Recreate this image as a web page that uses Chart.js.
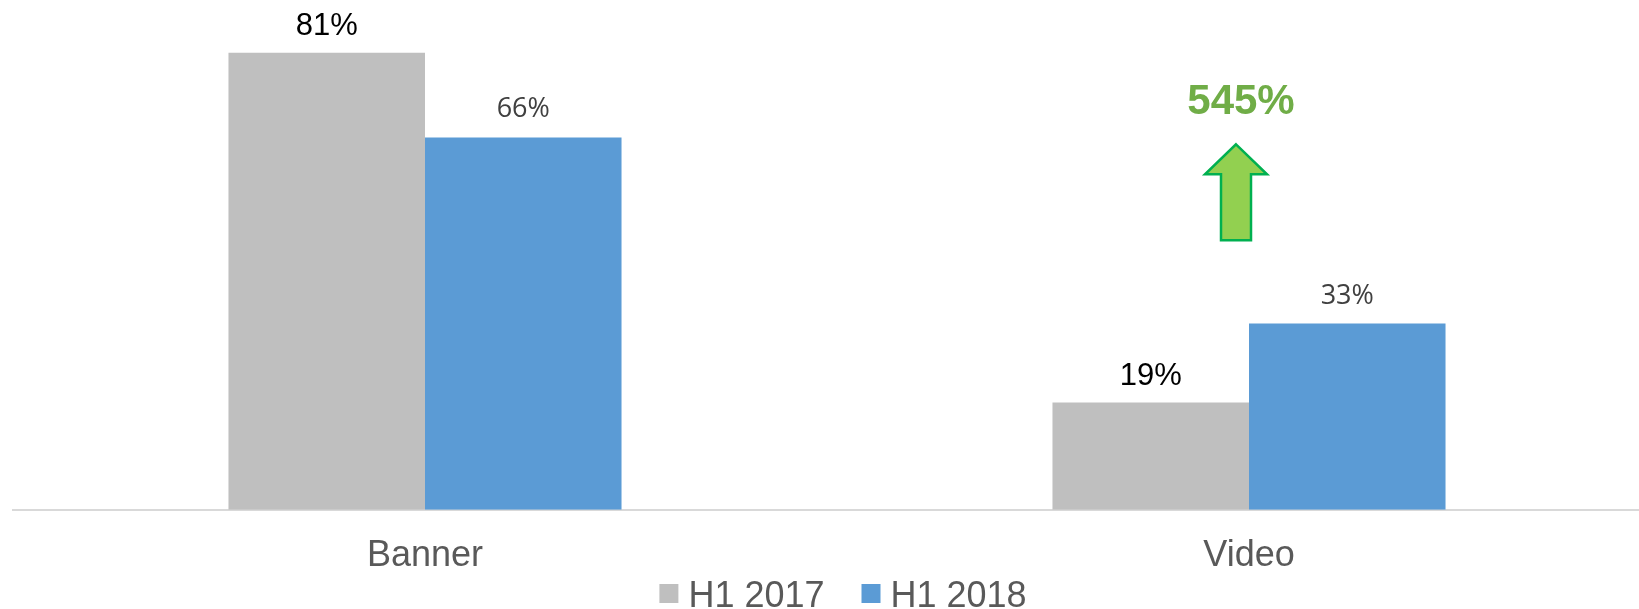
<!DOCTYPE html>
<html>
<head>
<meta charset="utf-8">
<script src="https://cdn.jsdelivr.net/npm/chart.js@4.4.1/dist/chart.umd.min.js"></script>
<style>
  html, body { margin: 0; padding: 0; background: #fff; overflow: hidden; }
  #wrap { width: 1662px; height: 609px; }
</style>
</head>
<body>
<div id="wrap"><canvas id="myChart" width="1662" height="609"></canvas></div>
<script>
const categories = ['Banner', 'Video'];
const seriesNames = ['H1 2017', 'H1 2018'];
const h1_2017 = [81, 19];
const h1_2018 = [66, 33];
const growthText = '545%';
const growthAt = 70.1; // y value the growth label sits on

const colors = ['#BFBFBF', '#5B9BD5'];

// value labels above each bar
const barLabels = {
    id: 'barLabels',
    afterDatasetsDraw(chart) {
        const ctx = chart.ctx;
        const styles = [
            { font: '31px "Liberation Sans", Arial, sans-serif', color: '#000000', gap: 18 },
            { font: '27px "Open Sans", sans-serif', color: '#404040', gap: 20 }
        ];
        ctx.save();
        ctx.textAlign = 'center';
        ctx.textBaseline = 'alphabetic';
        chart.data.datasets.forEach((ds, i) => {
            const meta = chart.getDatasetMeta(i);
            ctx.font = styles[i].font;
            ctx.fillStyle = styles[i].color;
            meta.data.forEach((bar, j) => {
                ctx.fillText(ds.data[j] + '%', bar.x, bar.y - styles[i].gap);
            });
        });
        ctx.restore();
    }
};

// growth callout with arrow over Video
const growthCallout = {
    id: 'growthCallout',
    afterDraw(chart) {
        const ctx = chart.ctx;
        const x = chart.scales.x.getPixelForValue(1) - 8;
        const y = chart.scales.y.getPixelForValue(growthAt);
        ctx.save();
        ctx.font = 'bold 42px "Liberation Sans", Arial, sans-serif';
        ctx.fillStyle = '#70AD47';
        ctx.textAlign = 'center';
        ctx.fillText(growthText, x, y);

        const ax = x - 5;
        ctx.beginPath();
        ctx.moveTo(ax, y + 30);
        ctx.lineTo(ax + 31, y + 60);
        ctx.lineTo(ax + 15, y + 60);
        ctx.lineTo(ax + 15, y + 126);
        ctx.lineTo(ax - 15, y + 126);
        ctx.lineTo(ax - 15, y + 60);
        ctx.lineTo(ax - 31, y + 60);
        ctx.closePath();
        ctx.fillStyle = '#92D050';
        ctx.fill();
        ctx.lineWidth = 2.5;
        ctx.strokeStyle = '#00B050';
        ctx.lineJoin = 'miter';
        ctx.stroke();
        ctx.restore();
    }
};

// legend row under the axis
const bottomLegend = {
    id: 'bottomLegend',
    afterDraw(chart) {
        const ctx = chart.ctx;
        const box = 19, gap = 10, between = 37;
        ctx.save();
        ctx.font = '36px "Liberation Sans", Arial, sans-serif';
        const items = chart.data.datasets.map(ds => ({ text: ds.label, color: ds.backgroundColor, w: ctx.measureText(ds.label).width }));
        let total = 0;
        items.forEach((it, i) => { total += box + gap + it.w + (i ? between : 0); });
        const area = chart.chartArea;
        let x = (area.left + area.right) / 2 + 6 - total / 2;
        const base = 607;
        items.forEach(it => {
            ctx.fillStyle = it.color;
            ctx.fillRect(x, base - 23, box, box);
            ctx.fillStyle = '#595959';
            ctx.textBaseline = 'alphabetic';
            ctx.fillText(it.text, x + box + gap, base);
            x += box + gap + it.w + between;
        });
        ctx.restore();
    }
};

const ctx = document.getElementById('myChart').getContext('2d');
const myChart = new Chart(ctx, {
    type: 'bar',
    data: {
        labels: categories,
        datasets: [
            { label: seriesNames[0], data: h1_2017, backgroundColor: colors[0] },
            { label: seriesNames[1], data: h1_2018, backgroundColor: colors[1] }
        ]
    },
    options: {
        responsive: false,
        animation: false,
        layout: { padding: { top: 2, left: 13, right: 1, bottom: 14 } },
        datasets: { bar: { categoryPercentage: 0.477, barPercentage: 1.0 } },
        plugins: { legend: { display: false }, tooltip: { enabled: false } },
        scales: {
            x: {
                grid: { display: false },
                border: { display: true, color: '#D9D9D9', width: 2 },
                ticks: {
                    color: '#595959',
                    padding: 17,
                    font: { family: '"Liberation Sans", Arial, sans-serif', size: 36 }
                }
            },
            y: { display: false, min: 0, max: 90 }
        }
    },
    plugins: [barLabels, growthCallout, bottomLegend]
});
</script>
</body>
</html>
